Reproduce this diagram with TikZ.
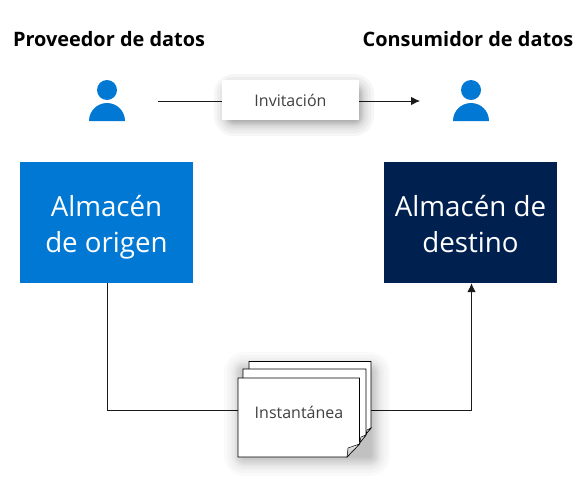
\documentclass[tikz,border=0pt]{standalone}
\usepackage{fontspec}
\setmainfont{Open Sans}
\usetikzlibrary{arrows.meta}
\definecolor{azul}{HTML}{0078D4}
\definecolor{marino}{HTML}{002050}
\definecolor{linea}{HTML}{1A1A1A}
\definecolor{texto}{HTML}{404040}
\tikzset{
  x=1pt,y=-1pt,
  heading/.style={font=\fontsize{19.9}{22}\selectfont\bfseries,text=black,inner sep=0pt},
  store/.style={minimum width=173pt,minimum height=121pt,inner sep=0pt,align=center,text=white,font=\fontsize{27.7}{36}\selectfont},
  conn/.style={draw=linea,line width=0.8pt},
  arrowed/.style={conn,-{Latex[length=9pt,width=8.5pt]}},
  sheet/.style={draw=black,line width=0.8pt,fill=white},
  personfill/.style={fill=azul,draw=none},
  foldmark/.style={draw=black,line width=0.5pt,top color=gray!15,bottom color=gray!55},
}
\newcommand{\softshadow}[5]{%
  \foreach \s in {20,17,14,12,10,9,8,7,6,5,4,3,2,1}{
    \fill[black,opacity=#5,rounded corners=\s pt] (#1-\s,#2-\s) rectangle (#3+\s,#4+\s);
  }%
}
\newcommand{\personicon}[2]{%
  \fill[personfill] (#1,#2) circle[radius=10];
  \fill[personfill] (#1-18,#2+31) arc[start angle=180,end angle=360,radius=18] -- cycle;
}
\newcommand{\topline}{\rule{0pt}{33pt}}
\newcommand{\botline}{\rule[-9pt]{0pt}{0pt}}
\begin{document}
\begin{tikzpicture}
\useasboundingbox (0,0) rectangle (577,477);
\node[heading] (prov) at (109,39) {Proveedor de datos};
\node[heading] (cons) at (468,39) {Consumidor de datos};
\personicon{107}{90}
\personicon{471}{90}
\node[store,fill=azul] (origen) at (106.5,222.5) {\topline Almacén\\\botline de origen};
\node[store,fill=marino] (destino) at (470.5,222.5) {\topline Almacén de\\\botline destino};
\coordinate (invA) at (158,101);
\coordinate (invB) at (420,101);
\draw[arrowed] (invA) -- (invB);
\softshadow{234}{94}{354}{116}{0.035}
\node[fill=white,minimum width=137pt,minimum height=40pt,inner sep=0pt,text=texto,font=\fontsize{16}{18}\selectfont] (inv) at (290.5,100) {Invitación};
\node[minimum width=121pt,minimum height=60pt,inner sep=0pt] (snap) at (298.5,410) {};
\draw[conn] ([xshift=1pt]origen.south) |- (snap.west);
\draw[arrowed] (snap.east) -| ([xshift=1pt]destino.south);
\softshadow{244}{372}{370}{456}{0.018}
\draw[sheet] (249,361.5) -- (371,361.5) -- (371,428) -- (366,434) -- (249,434) -- cycle;
\draw[sheet] (243,369) -- (366,369) -- (366,435) -- (359.5,443) -- (243,443) -- cycle;
\draw[sheet] (238,378) -- (359.5,378) -- (359.5,444) -- (347,457) -- (238,457) -- cycle;
\path[foldmark] (359.5,444) -- (348,448) -- (347,457) -- cycle;
\path[foldmark] (366,435) -- (361,437) -- (359.5,443) -- cycle;
\path[foldmark] (371,428) -- (367,430) -- (366,434) -- cycle;
\node[text=texto,font=\fontsize{16}{18}\selectfont] (label) at (299,412) {Instantánea};
\end{tikzpicture}
\end{document}
